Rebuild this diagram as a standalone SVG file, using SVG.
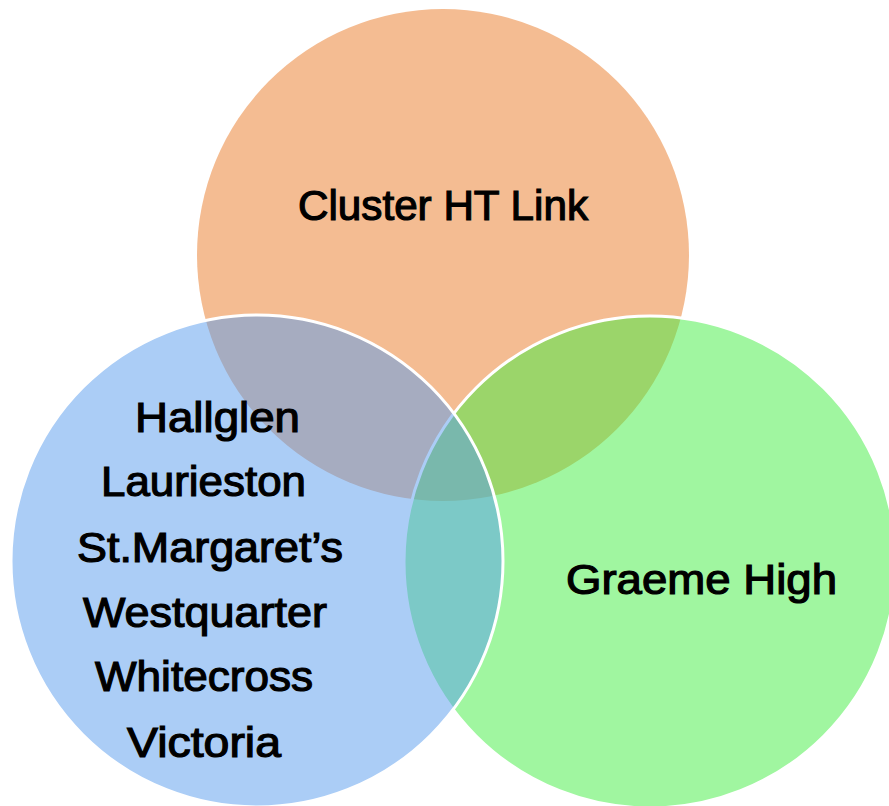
<svg xmlns="http://www.w3.org/2000/svg" width="889" height="806" viewBox="0 0 889 806">
  <style>
    .lbl { font-family: "Liberation Sans", Arial, sans-serif; font-size: 42px; fill: #000; stroke: #000; stroke-width: 1.2px; }
    .ring { stroke: #FFFFFF; stroke-width: 3px; }
  </style>
  <rect width="889" height="806" fill="#FFFFFF"/>
  <g id="cluster">
    <circle cx="443" cy="255" r="246" fill="#F4BC92"/>
    <text class="lbl" x="298" y="220" textLength="290" lengthAdjust="spacingAndGlyphs">Cluster HT Link</text>
  </g>
  <g id="graeme">
    <circle class="ring" cx="650" cy="562" r="246" fill="#41ED41" fill-opacity="0.5"/>
    <text class="lbl" x="566" y="594" textLength="271" lengthAdjust="spacingAndGlyphs">Graeme High</text>
  </g>
  <g id="primaries">
    <circle class="ring" cx="257" cy="561" r="246" fill="#579BED" fill-opacity="0.5"/>
    <text class="lbl" x="135" y="432" textLength="165" lengthAdjust="spacingAndGlyphs">Hallglen</text>
    <text class="lbl" x="101" y="496" textLength="205" lengthAdjust="spacingAndGlyphs">Laurieston</text>
    <text class="lbl" x="77" y="562" textLength="266" lengthAdjust="spacingAndGlyphs">St.Margaret’s</text>
    <text class="lbl" x="83" y="627" textLength="244" lengthAdjust="spacingAndGlyphs">Westquarter</text>
    <text class="lbl" x="95" y="691" textLength="218" lengthAdjust="spacingAndGlyphs">Whitecross</text>
    <text class="lbl" x="127" y="757" textLength="154" lengthAdjust="spacingAndGlyphs">Victoria</text>
  </g>
</svg>
